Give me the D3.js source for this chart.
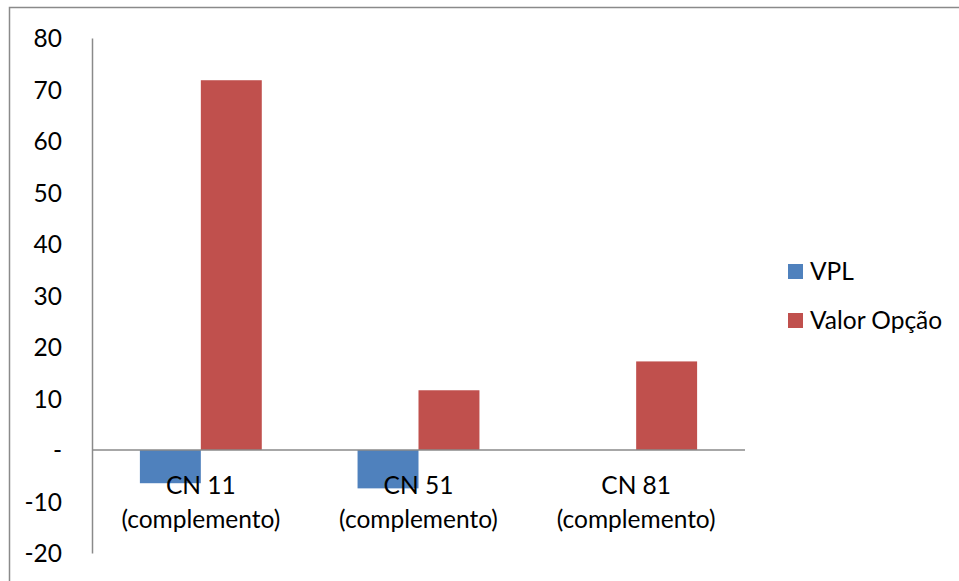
<!DOCTYPE html>
<html><head><meta charset="utf-8">
<script src="https://cdn.jsdelivr.net/npm/d3@7"></script>
<style>html,body{margin:0;padding:0;background:#fff;} svg{display:block;font-family:Lato, "Open Sans", sans-serif;}</style>
</head><body><svg id="c" width="959" height="581"></svg>
<script>
const categories = ["CN 11 (complemento)", "CN 51 (complemento)", "CN 81 (complemento)"];
const seriesNames = ["VPL", "Valor Opção"];
const vpl = [-6.45, -7.45, 0];
const valorOpcao = [71.8, 11.6, 17.2];
const yTicks = [-20, -10, 0, 10, 20, 30, 40, 50, 60, 70, 80];
const colors = ["#4F81BD", "#C0504D"];

const svg = d3.select("#c");
const fs = 24.5;
svg.append("rect").attr("x", 9.5).attr("y", 7.5).attr("width", 960).attr("height", 600)
  .attr("fill", "none").attr("stroke", "#8a8a8a").attr("stroke-width", 1.5);

const x0 = 92, x1 = 745;
const y = d3.scaleLinear().domain([-20, 80]).range([553, 38]);
const xb = d3.scaleBand().domain(categories).range([x0, x1]).paddingInner(0.44).paddingOuter(0.22);
const xs = d3.scaleBand().domain(seriesNames).range([0, xb.bandwidth()]);

const data = categories.map((c, i) => ({c, vals: [vpl[i], valorOpcao[i]]}));
const g = svg.append("g");
data.forEach(d => {
  d.vals.forEach((v, j) => {
    if (v === 0) return;
    g.append("rect")
      .attr("x", xb(d.c) + xs(seriesNames[j]))
      .attr("width", xs.bandwidth())
      .attr("y", y(Math.max(0, v)))
      .attr("height", Math.abs(y(v) - y(0)))
      .attr("fill", colors[j]);
  });
});

// y axis
const yAxis = d3.axisLeft(y).tickValues(yTicks).tickSize(0).tickPadding(30)
  .tickFormat(d => d === 0 ? "-" : String(d));
const ya = svg.append("g").attr("transform", `translate(${x0},0)`).call(yAxis);
ya.select(".domain").attr("stroke", "#8a8a8a").attr("stroke-width", 1.5);
ya.selectAll("text").attr("font-size", fs).attr("fill", "#000").attr("font-family", "Lato").attr("dy", "0.35em");

// zero line
svg.append("line").attr("x1", x0).attr("x2", x1).attr("y1", y(0)).attr("y2", y(0))
  .attr("stroke", "#8a8a8a").attr("stroke-width", 1.5);

// category labels
categories.forEach(c => {
  const parts = [c.slice(0, c.indexOf(" (")), c.slice(c.indexOf(" (") + 1)];
  const cx = xb(c) + xb.bandwidth() / 2;
  parts.forEach((p, k) => {
    svg.append("text").attr("x", cx).attr("y", 494 + k * 34)
      .attr("text-anchor", "middle").attr("font-size", fs).attr("fill", "#000").text(p);
  });
});

// legend
seriesNames.forEach((s, i) => {
  const ly = 271.5 + i * 49;
  svg.append("rect").attr("x", 788).attr("y", ly - 7.5).attr("width", 15).attr("height", 15).attr("fill", colors[i]);
  svg.append("text").attr("x", 810).attr("y", ly).attr("dy", "0.35em")
    .attr("font-size", fs).attr("fill", "#000").text(s);
});
</script></body></html>
